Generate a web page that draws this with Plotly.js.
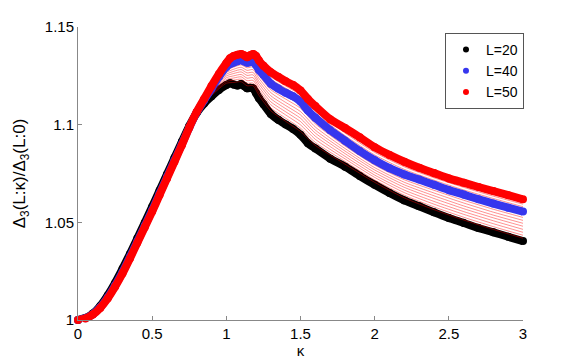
<!DOCTYPE html>
<html>
<head>
<meta charset="utf-8">
<script src="https://cdn.plot.ly/plotly-3.0.1.min.js"></script>
<style>html,body{margin:0;padding:0;background:#fff;}#plot{width:581px;height:364px;}</style>
</head>
<body>
<div id="plot"></div>
<script>
// kappa grid for the three highlighted series
const kappa = [0,0.05,0.1,0.15,0.2,0.25,0.3,0.35,0.4,0.45,0.5,0.55,0.6,0.65,0.7,0.75,0.8,0.85,0.9,
  0.95,1.0,1.025,1.05,1.075,1.1,1.12,1.14,1.16,1.18,1.2,1.22,1.25,1.3,1.35,1.4,1.45,1.5,1.55,1.6,
  1.7,1.8,1.9,2.0,2.1,2.2,2.3,2.4,2.5,2.6,2.7,2.8,2.9,3.0];

const L20 = [1.0000,1.0010,1.0033,1.0072,1.0126,1.0190,1.0262,1.0338,1.0418,1.0498,1.0580,1.0663,1.0746,1.0830,1.0912,1.0993,1.1060,1.1108,1.1145,
  1.1178,1.1203,1.1212,1.1205,1.1200,1.1208,1.1198,1.1186,1.1189,1.1186,1.1162,1.1135,1.1105,1.1055,1.1025,1.1001,1.0978,1.0948,1.0905,1.0878,
  1.0826,1.0785,1.0737,1.0692,1.0650,1.0612,1.0582,1.0551,1.0522,1.0497,1.0471,1.0449,1.0426,1.0404];

const L40 = [1.0000,1.0009,1.0030,1.0065,1.0115,1.0176,1.0245,1.0322,1.0402,1.0482,1.0562,1.0647,1.0732,1.0816,1.0900,1.0985,1.1063,1.1125,1.1185,
  1.1245,1.1295,1.1310,1.1318,1.1325,1.1331,1.1324,1.1317,1.1320,1.1323,1.1305,1.1280,1.1255,1.1210,1.1185,1.1163,1.1145,1.1118,1.1072,1.1035,
  1.0972,1.0918,1.0865,1.0818,1.0777,1.0745,1.0719,1.0692,1.0665,1.0642,1.0618,1.0596,1.0575,1.0555];

const L50 = [1.0000,1.0008,1.0028,1.0062,1.0110,1.0170,1.0238,1.0315,1.0395,1.0475,1.0555,1.0640,1.0725,1.0810,1.0895,1.0985,1.1065,1.1132,1.1198,
  1.1260,1.1315,1.1340,1.1352,1.1358,1.1362,1.1355,1.1345,1.1355,1.1362,1.1352,1.1328,1.1302,1.1268,1.1245,1.1222,1.1203,1.1175,1.1132,1.1095,
  1.1028,1.0983,1.0935,1.0885,1.0845,1.0810,1.0779,1.0752,1.0725,1.0703,1.0681,1.0660,1.0639,1.0618];

// kappa grid for the thin intermediate-L curves
const kappaThin = [0.6,0.7,0.8,0.9,1.0,1.05,1.1,1.14,1.18,1.22,1.3,1.4,1.5,1.6,1.8,2.0,2.2,2.4,2.6,2.8,3.0];
const thinL = [22,24,26,28,30,32,34,36,38,42,44,46,48];
const L22 = [1.0756,1.0914,1.1060,1.1149,1.1212,1.1216,1.1220,1.1199,1.1200,1.1150,1.1071,1.1017,1.0965,1.0894,1.0798,1.0705,1.0625,1.0565,1.0512,1.0464,1.0419];
const L24 = [1.0753,1.0912,1.1061,1.1153,1.1221,1.1228,1.1233,1.1212,1.1213,1.1164,1.1086,1.1033,1.0982,1.0909,1.0812,1.0717,1.0639,1.0579,1.0526,1.0478,1.0434];
const L26 = [1.0751,1.0911,1.1061,1.1157,1.1231,1.1239,1.1245,1.1225,1.1227,1.1179,1.1102,1.1050,1.0999,1.0925,1.0825,1.0730,1.0652,1.0593,1.0541,1.0493,1.0449];
const L28 = [1.0749,1.0909,1.1061,1.1161,1.1240,1.1250,1.1257,1.1238,1.1241,1.1193,1.1117,1.1066,1.1016,1.0941,1.0838,1.0742,1.0665,1.0607,1.0555,1.0508,1.0464];
const L30 = [1.0747,1.0908,1.1062,1.1165,1.1249,1.1262,1.1270,1.1252,1.1255,1.1208,1.1133,1.1082,1.1033,1.0957,1.0852,1.0755,1.0679,1.0622,1.0570,1.0523,1.0480];
const L32 = [1.0744,1.0906,1.1062,1.1169,1.1258,1.1273,1.1282,1.1265,1.1268,1.1222,1.1148,1.1098,1.1050,1.0972,1.0865,1.0768,1.0692,1.0636,1.0584,1.0537,1.0495];
const L34 = [1.0742,1.0905,1.1062,1.1173,1.1267,1.1284,1.1294,1.1278,1.1282,1.1237,1.1164,1.1114,1.1067,1.0988,1.0878,1.0780,1.0705,1.0650,1.0599,1.0552,1.0510];
const L36 = [1.0740,1.0903,1.1062,1.1177,1.1277,1.1295,1.1306,1.1291,1.1296,1.1251,1.1179,1.1131,1.1084,1.1004,1.0891,1.0793,1.0718,1.0664,1.0613,1.0567,1.0525];
const L38 = [1.0737,1.0902,1.1063,1.1181,1.1286,1.1307,1.1319,1.1304,1.1309,1.1266,1.1195,1.1147,1.1101,1.1019,1.0905,1.0805,1.0732,1.0678,1.0628,1.0581,1.0540];
const L42 = [1.0733,1.0899,1.1063,1.1188,1.1299,1.1325,1.1337,1.1323,1.1331,1.1290,1.1222,1.1175,1.1129,1.1047,1.0931,1.0831,1.0758,1.0704,1.0654,1.0609,1.0568];
const L44 = [1.0731,1.0898,1.1064,1.1190,1.1303,1.1332,1.1343,1.1328,1.1339,1.1299,1.1233,1.1187,1.1141,1.1059,1.0944,1.0845,1.0771,1.0716,1.0666,1.0622,1.0580];
const L46 = [1.0729,1.0897,1.1064,1.1193,1.1307,1.1338,1.1350,1.1334,1.1346,1.1309,1.1245,1.1198,1.1152,1.1071,1.0957,1.0858,1.0784,1.0728,1.0679,1.0634,1.0593];
const L48 = [1.0727,1.0896,1.1065,1.1195,1.1311,1.1345,1.1356,1.1339,1.1354,1.1318,1.1256,1.1210,1.1164,1.1083,1.0970,1.0872,1.0797,1.0740,1.0691,1.0647,1.0605];
const thinSeries = [L22,L24,L26,L28,L30,L32,L34,L36,L38,L42,L44,L46,L48];

const xTicks = [0,0.5,1,1.5,2,2.5,3];
const xTickText = ['0','0.5','1','1.5','2','2.5','3'];
const yTicks = [1,1.05,1.1,1.15];
const yTickText = ['1','1.05','1.1','1.15'];
const legendNames = ['L=20','L=40','L=50'];
const colBlack = '#000000', colBlue = '#3636ee', colRed = '#ff0000';

function thick(y, color){
  return {x: kappa, y: y, mode: 'lines+markers', showlegend: false, cliponaxis: false,
    line: {color: color, width: 8, shape: 'spline', smoothing: 0.6},
    marker: {color: color, size: 8}, hoverinfo: 'skip'};
}
function legendItem(name, color){
  return {x: [null], y: [null], mode: 'markers', name: name,
    marker: {color: color, size: 6}};
}

const traces = [];
traces.push(thick(L20, colBlack));
thinSeries.forEach((ys, i) => {
  traces.push({x: kappaThin, y: ys, mode: 'lines', showlegend: false, name: 'L=' + thinL[i],
    line: {color: 'rgba(255,0,0,0.55)', width: 0.8, shape: 'spline', smoothing: 0.6}, hoverinfo: 'skip'});
});
traces.push(thick(L40, colBlue));
traces.push(thick(L50, colRed));
traces.push(legendItem(legendNames[0], colBlack));
traces.push(legendItem(legendNames[1], colBlue));
traces.push(legendItem(legendNames[2], colRed));

const fontFam = 'Liberation Sans, Arial, Helvetica, sans-serif';
const layout = {
  width: 581, height: 364,
  margin: {l: 78, r: 58, t: 27, b: 44},
  paper_bgcolor: '#ffffff', plot_bgcolor: '#ffffff',
  font: {family: fontFam, size: 14, color: '#000'},
  showlegend: true,
  legend: {x: 0.8247, y: 0.9795, xanchor: 'left', yanchor: 'top',
    bgcolor: '#ffffff', bordercolor: '#555555', borderwidth: 1,
    font: {family: fontFam, size: 14, color: '#000'}, itemwidth: 30, tracegroupgap: 0},
  xaxis: {range: [0, 3], tickvals: xTicks, ticktext: xTickText, ticks: 'inside', ticklen: 4,
    tickcolor: '#888', showline: true, linecolor: '#888', linewidth: 1, showgrid: false, zeroline: false,
    tickfont: {family: fontFam, size: 15, color: '#000'},
    title: {text: 'κ', font: {family: fontFam, size: 15, color: '#000'}, standoff: 2}},
  yaxis: {range: [1, 1.15], tickvals: yTicks, ticktext: yTickText, ticks: 'inside', ticklen: 4,
    tickcolor: '#888', showline: true, linecolor: '#888', linewidth: 1, showgrid: false, zeroline: false,
    tickfont: {family: fontFam, size: 15, color: '#000'},
    title: {text: 'Δ<sub>3</sub>(L:κ)/Δ<sub>3</sub>(L:0)', font: {family: fontFam, size: 17, color: '#000'}, standoff: 14}}
};

Plotly.newPlot('plot', traces, layout, {displayModeBar: false, staticPlot: true});
</script>
</body>
</html>
